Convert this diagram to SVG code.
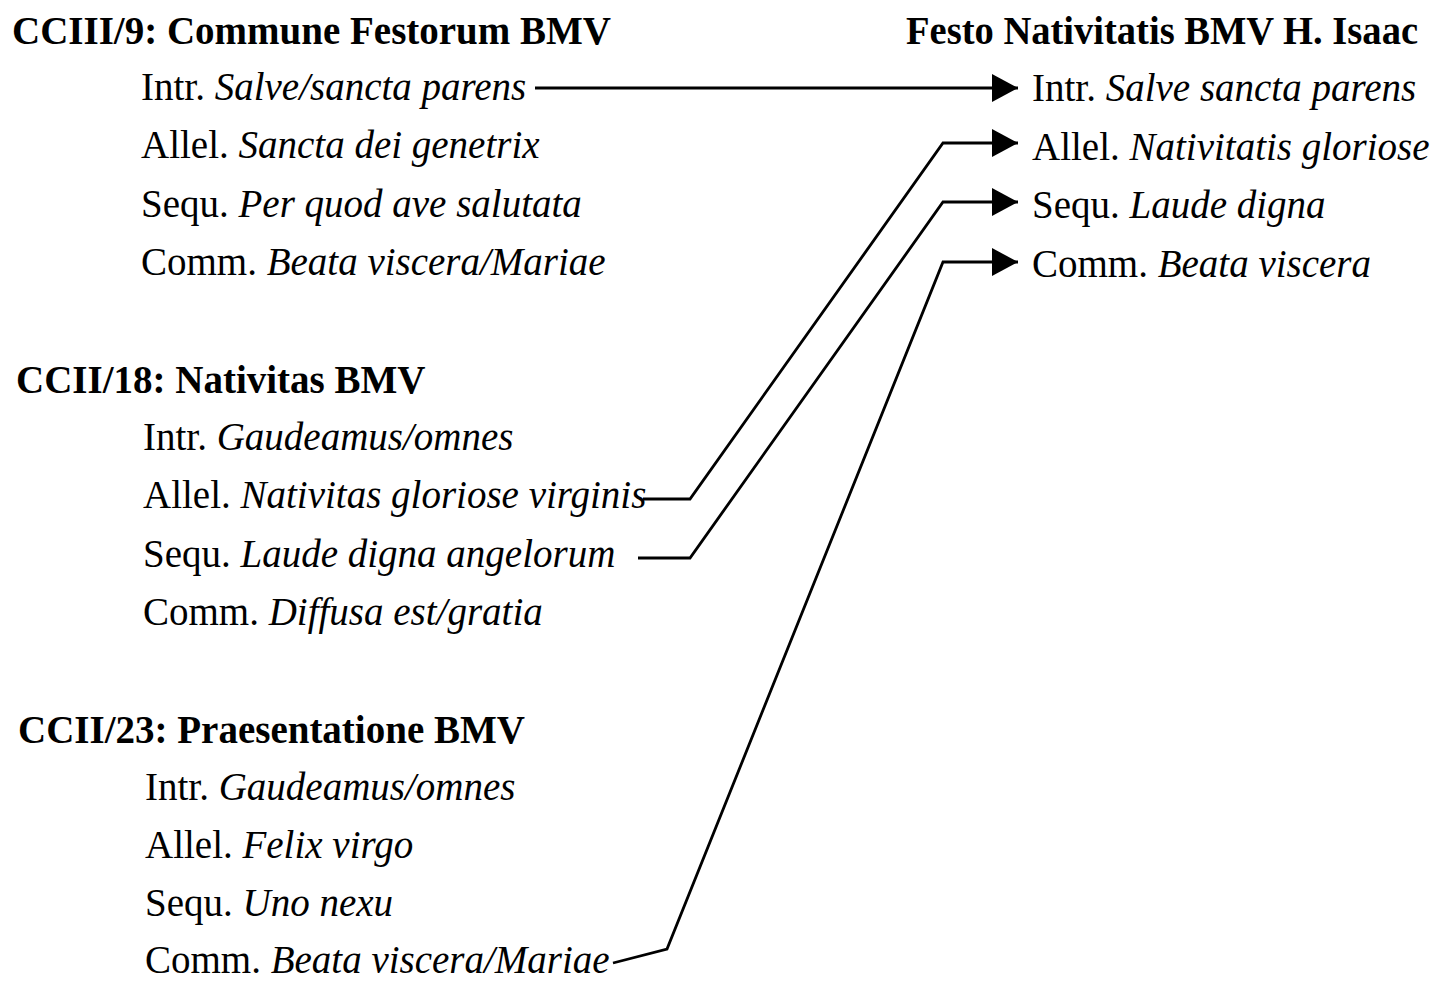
<svg xmlns="http://www.w3.org/2000/svg" width="1440" height="983" viewBox="0 0 1440 983">
  <style>
    .head { font-family: "Liberation Serif", "Times New Roman", serif; font-weight: bold; font-size: 39px; fill: #000; }
    .item { font-family: "Liberation Serif", "Times New Roman", serif; font-size: 39px; fill: #000; }
    .item tspan.t { font-style: italic; }
    .link { fill: none; stroke: #000; stroke-width: 2.8; stroke-linejoin: miter; }
  </style>
  <defs>
    <marker id="arrow" markerUnits="userSpaceOnUse" markerWidth="28" markerHeight="30" refX="26" refY="14" orient="auto">
      <path d="M0,0 L26,14 L0,28 Z" fill="#000"/>
    </marker>
  </defs>
  <rect width="1440" height="983" fill="#fff"/>

  <!-- Source: Commune Festorum -->
  <g id="ccIII-9">
    <text class="head" x="12" y="44">CCIII/9: Commune Festorum BMV</text>
    <text class="item" x="141" y="100">Intr. <tspan class="t">Salve/sancta parens</tspan></text>
    <text class="item" x="141" y="158">Allel. <tspan class="t">Sancta dei genetrix</tspan></text>
    <text class="item" x="141" y="217">Sequ. <tspan class="t">Per quod ave salutata</tspan></text>
    <text class="item" x="141" y="275">Comm. <tspan class="t">Beata viscera/Mariae</tspan></text>
  </g>

  <!-- Source: Nativitas -->
  <g id="ccII-18">
    <text class="head" x="16" y="393">CCII/18: Nativitas BMV</text>
    <text class="item" x="143" y="450">Intr. <tspan class="t">Gaudeamus/omnes</tspan></text>
    <text class="item" x="143" y="508">Allel. <tspan class="t">Nativitas gloriose virginis</tspan></text>
    <text class="item" x="143" y="567">Sequ. <tspan class="t">Laude digna angelorum</tspan></text>
    <text class="item" x="143" y="625">Comm. <tspan class="t">Diffusa est/gratia</tspan></text>
  </g>

  <!-- Source: Praesentatione -->
  <g id="ccII-23">
    <text class="head" x="18" y="743">CCII/23: Praesentatione BMV</text>
    <text class="item" x="145" y="800">Intr. <tspan class="t">Gaudeamus/omnes</tspan></text>
    <text class="item" x="145" y="858">Allel. <tspan class="t">Felix virgo</tspan></text>
    <text class="item" x="145" y="916">Sequ. <tspan class="t">Uno nexu</tspan></text>
    <text class="item" x="145" y="973">Comm. <tspan class="t">Beata viscera/Mariae</tspan></text>
  </g>

  <!-- Target: Isaac's Nativity proper -->
  <g id="isaac">
    <text class="head" x="906" y="44" textLength="512" lengthAdjust="spacingAndGlyphs">Festo Nativitatis BMV H. Isaac</text>
    <text class="item" x="1032" y="101">Intr. <tspan class="t">Salve sancta parens</tspan></text>
    <text class="item" x="1032" y="160">Allel. <tspan class="t">Nativitatis gloriose</tspan></text>
    <text class="item" x="1032" y="218">Sequ. <tspan class="t">Laude digna</tspan></text>
    <text class="item" x="1032" y="277">Comm. <tspan class="t">Beata viscera</tspan></text>
  </g>

  <!-- Borrowings -->
  <g id="connectors">
    <path class="link" d="M535,88 L1018,88" marker-end="url(#arrow)"/>
    <path class="link" d="M643,499 L690,499 L943,143 L1018,143" marker-end="url(#arrow)"/>
    <path class="link" d="M638,558 L690,558 L943,202 L1018,202" marker-end="url(#arrow)"/>
    <path class="link" d="M613,963 L667,949 L943,262 L1018,262" marker-end="url(#arrow)"/>
  </g>
</svg>
